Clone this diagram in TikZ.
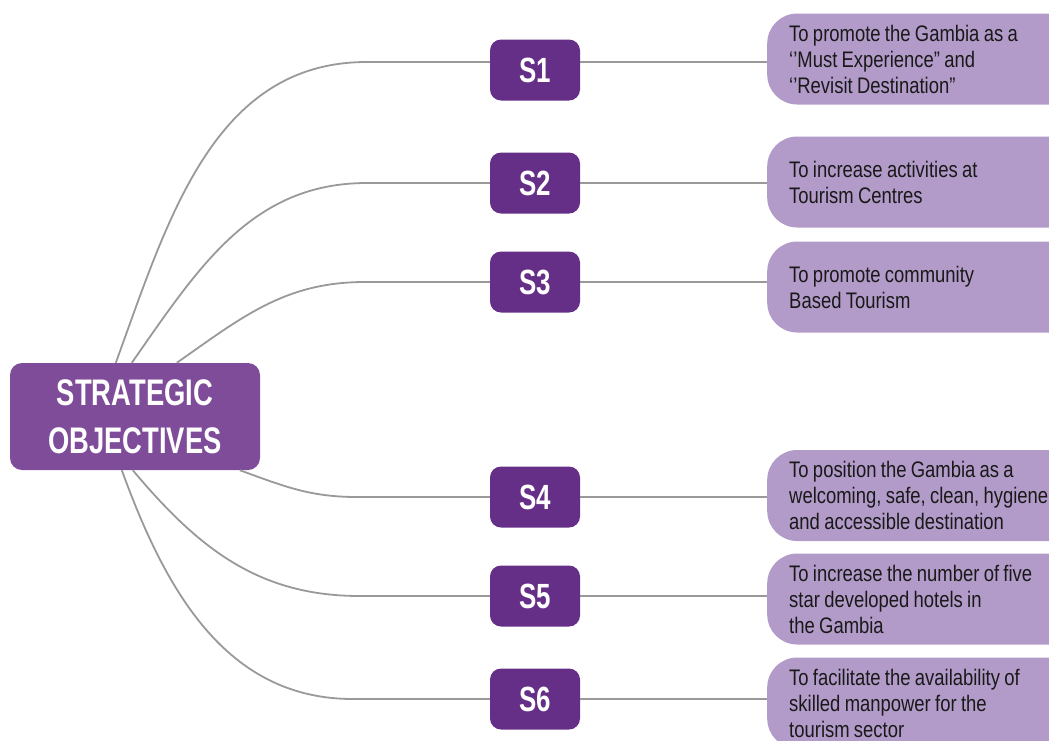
\documentclass[tikz,border=0pt]{standalone}
\usepackage{fontspec}
\setmainfont{Liberation Sans}
\newfontfamily\condfont[FakeStretch=0.82]{Liberation Sans}
\newfontfamily\narrowfont[FakeStretch=0.74]{Liberation Sans Bold}
\DeclareRobustCommand\tightspace{\spaceskip=4.3pt\relax}
\usetikzlibrary{positioning,calc}
\definecolor{rootpurple}{HTML}{7F4C99}
\definecolor{numpurple}{HTML}{652F87}
\definecolor{objpurple}{HTML}{B39BC9}
\definecolor{linkgray}{HTML}{999999}
\tikzset{
  rootblk/.style={rectangle,rounded corners=12pt,fill=rootpurple,text=white,minimum width=250pt,minimum height=107pt,align=center,font=\narrowfont\fontsize{37}{48}\selectfont},
  numblk/.style={rectangle,rounded corners=11pt,fill=numpurple,text=white,minimum width=90pt,minimum height=61pt,font=\narrowfont\fontsize{35}{40}\selectfont},
  objblk/.style={rectangle,rounded corners=30pt,fill=objpurple,text=black!90,anchor=west,text width=330pt,inner xsep=22pt,inner ysep=0pt,minimum height=91pt,align=left,font=\condfont\fontsize{22.5}{26}\selectfont,execute at begin node=\tightspace},
  link/.style={draw=linkgray,line width=1.8pt}
}

\begin{document}
\begin{tikzpicture}[x=1pt,y=-1pt]
  \clip (0,0) rectangle (1049,740);
  % Root
  \node[rootblk] (root) at (135,416.5) {STRATEGIC\\OBJECTIVES};

  % Objective numbers
  \node[numblk] (s1) at (535,70) {S1};
  \node[numblk] (s2) at (535,183) {S2};
  \node[numblk] (s3) at (535,282) {S3};
  \node[numblk] (s4) at (535,497) {S4};
  \node[numblk] (s5) at (535,596) {S5};
  \node[numblk] (s6) at (535,699) {S6};

  % Objective texts
  \node[objblk] (o1) at (767,59) {To promote the Gambia as a\\‘’Must Experience” and\\‘’Revisit Destination”};
  \node[objblk] (o2) at (767,182) {To increase activities at\\Tourism Centres};
  \node[objblk] (o3) at (767,287) {To promote community\\Based Tourism};
  \node[objblk] (o4) at (767,495.5) {To position the Gambia as a\\welcoming, safe, clean, hygiene\\and accessible destination};
  \node[objblk] (o5) at (767,599) {To increase the number of five\\star developed hotels in\\the Gambia};
  \node[objblk] (o6) at (767,703) {To facilitate the availability of\\skilled manpower for the\\tourism sector};

  % Branches from the root
  \draw[link] ([xshift=106pt]root.north west) to[out=70,in=180] ([xshift=-123pt,yshift=8pt]s1.west) -- ([yshift=8pt]s1.west);
  \foreach \s/\dx/\ang/\ex in {s2/122/55/123,s3/167/35/125}
    \draw[link] ([xshift=\dx pt]root.north west) to[out=\ang,in=180] ([xshift=-\ex pt]\s.west) -- (\s.west);
  \foreach \s/\dx/\ang/\ex in {s4/230/-20/133,s5/123/-50/130,s6/112/-70/137}
    \draw[link] ([xshift=\dx pt]root.south west) to[out=\ang,in=180] ([xshift=-\ex pt]\s.west) -- (\s.west);

  % Links to the objective texts
  \draw[link] ([yshift=8pt]s1.east) -- ([yshift=8pt]s1.east -| o1.west);
  \foreach \i in {2,...,6}
    \draw[link] (s\i.east) -- (s\i.east -| o\i.west);
\end{tikzpicture}
\end{document}
